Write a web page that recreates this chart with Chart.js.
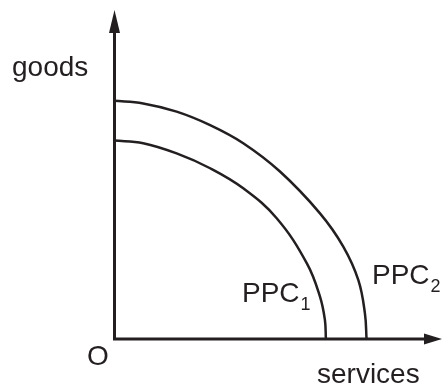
<!DOCTYPE html>
<html>
<head>
<meta charset="utf-8">
<style>
  html, body { margin: 0; padding: 0; background: #fff; }
  #wrap { width: 442px; height: 385px; }
</style>
<script src="https://cdn.jsdelivr.net/npm/chart.js@4/dist/chart.umd.min.js"></script>
</head>
<body>
<div id="wrap"><canvas id="ppc"></canvas></div>
<script>
// services (x) and goods (y), axis runs 0..10
const ppc1X = [0, 0.89, 1.91, 2.93, 3.94, 4.96, 5.88, 6.28, 6.43, 6.46];
const ppc1Y = [6.03, 5.95, 5.64, 5.19, 4.58, 3.67, 2.30, 1.29, 0.58, 0];
const ppc2X = [0, 0.89, 1.91, 2.93, 3.94, 5.06, 6.28, 6.99, 7.45, 7.65, 7.70];
const ppc2Y = [7.24, 7.16, 6.91, 6.50, 5.95, 5.09, 3.82, 2.81, 1.79, 0.78, 0];

const INK = '#231f20';
const FONT = '"Liberation Sans", Arial, Helvetica, sans-serif';

function toPoints(xs, ys) {
  return xs.map((x, i) => ({ x: x, y: ys[i] }));
}

// axes with arrow heads plus the text labels
const diagramPlugin = {
  id: 'diagram',
  afterDraw(chart) {
    const ctx = chart.ctx;
    const x = chart.scales.x;
    const y = chart.scales.y;
    const ox = x.getPixelForValue(0);
    const oy = y.getPixelForValue(0);
    const xEnd = x.getPixelForValue(10);
    const yEnd = y.getPixelForValue(10);

    ctx.save();
    ctx.strokeStyle = INK;
    ctx.fillStyle = INK;
    ctx.lineWidth = 3;
    ctx.lineCap = 'butt';
    ctx.lineJoin = 'miter';

    ctx.beginPath();
    ctx.moveTo(ox + 0.5, yEnd + 15);
    ctx.lineTo(ox + 0.5, oy);
    ctx.lineTo(xEnd - 15, oy);
    ctx.stroke();

    // up arrow
    ctx.beginPath();
    ctx.moveTo(ox + 0.5, yEnd);
    ctx.lineTo(ox + 6, yEnd + 23);
    ctx.lineTo(ox - 5, yEnd + 23);
    ctx.closePath();
    ctx.fill();

    // right arrow
    ctx.beginPath();
    ctx.moveTo(xEnd, oy);
    ctx.lineTo(xEnd - 18, oy - 5.5);
    ctx.lineTo(xEnd - 18, oy + 5.5);
    ctx.closePath();
    ctx.fill();

    ctx.font = '28px ' + FONT;
    ctx.textBaseline = 'alphabetic';
    ctx.textAlign = 'left';
    ctx.fillText('goods', 12, 76);
    ctx.fillText('O', 87, 365);
    ctx.fillText('services', 317, 383);

    drawSub(ctx, 'PPC', '1', 242, 302);
    drawSub(ctx, 'PPC', '2', 372, 284);
    ctx.restore();
  }
};

function drawSub(ctx, main, sub, px, py) {
  ctx.font = '28px ' + FONT;
  ctx.fillText(main, px, py);
  const w = ctx.measureText(main).width;
  ctx.font = '18px ' + FONT;
  ctx.fillText(sub, px + w + 1, py + 8);
}

new Chart(document.getElementById('ppc'), {
  type: 'line',
  data: {
    datasets: [
      {
        label: 'PPC1',
        data: toPoints(ppc1X, ppc1Y),
        borderColor: INK,
        borderWidth: 2.5,
        pointRadius: 0,
        tension: 0.4,
        fill: false
      },
      {
        label: 'PPC2',
        data: toPoints(ppc2X, ppc2Y),
        borderColor: INK,
        borderWidth: 2.5,
        pointRadius: 0,
        tension: 0.4,
        fill: false
      }
    ]
  },
  options: {
    responsive: true,
    maintainAspectRatio: false,
    animation: false,
    clip: false,
    layout: {
      padding: { left: 114, right: 0, top: 10, bottom: 46 }
    },
    plugins: {
      legend: { display: false },
      tooltip: { enabled: false }
    },
    scales: {
      x: { type: 'linear', min: 0, max: 10, display: false },
      y: { type: 'linear', min: 0, max: 10, display: false }
    }
  },
  plugins: [diagramPlugin]
});
</script>
</body>
</html>
